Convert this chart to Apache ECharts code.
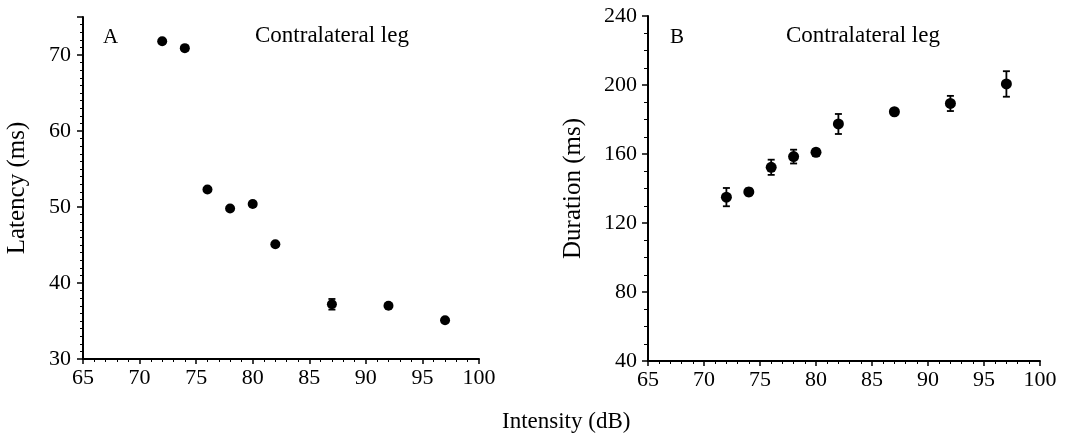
<!DOCTYPE html>
<html>
<head>
<meta charset="utf-8">
<style>
  html, body { margin: 0; padding: 0; background: #fff; }
  #chart { width: 1071px; height: 440px; }
</style>
<script src="https://cdn.jsdelivr.net/npm/echarts@6/dist/echarts.min.js"></script>
</head>
<body>
<div id="chart"></div>
<script>
// intensity levels (dB), shared by both panels
const intensity = [72, 74, 76, 78, 80, 82, 87, 92, 97];

// panel A: latency (ms) and its error
const latency = [71.8, 70.9, 52.3, 49.8, 50.4, 45.1, 37.2, 37.0, 35.1];
const latencyErr = [0.2, 0.3, 0.2, 0.2, 0.3, 0.2, 0.7, 0.2, 0.2];

// panel B: duration (ms) and its error
const duration = [135, 138, 152.3, 158.5, 161, 177.4, 184.5, 189.3, 200.6];
const durationErr = [5.3, 2, 4.4, 4, 2, 5.8, 1.5, 4.4, 7.4];

const font = 'Liberation Serif';
const black = '#000';

function errorData(ys, errs) {
  return intensity.map((x, i) => [x, ys[i] - errs[i], ys[i] + errs[i]]);
}

function renderErrorBar(params, api) {
  const x = api.value(0);
  const top = api.coord([x, api.value(2)]);
  const bot = api.coord([x, api.value(1)]);
  const cap = 3.5;
  const style = { stroke: black, lineWidth: 1.8 };
  return {
    type: 'group',
    children: [
      { type: 'line', shape: { x1: top[0], y1: top[1], x2: bot[0], y2: bot[1] }, style: style },
      { type: 'line', shape: { x1: top[0] - cap, y1: top[1], x2: top[0] + cap, y2: top[1] }, style: style },
      { type: 'line', shape: { x1: bot[0] - cap, y1: bot[1], x2: bot[0] + cap, y2: bot[1] }, style: style }
    ]
  };
}

function xAxisFor(gridIndex) {
  return {
    type: 'value', gridIndex: gridIndex, min: 65, max: 100, interval: 5,
    axisLine: { lineStyle: { color: black, width: 2 } },
    axisTick: { length: 5, lineStyle: { color: black, width: 1.5 } },
    minorTick: { show: true, splitNumber: 5, length: 3, lineStyle: { color: black, width: 1 } },
    axisLabel: { color: black, fontFamily: font, fontSize: 22, margin: 8 },
    splitLine: { show: false }
  };
}

const axisLineY = { show: true, lineStyle: { color: black, width: 2 } };

const option = {
  animation: false,
  backgroundColor: '#fff',
  grid: [
    { left: 83, top: 17, width: 396, height: 342 },
    { left: 648, top: 16, width: 392, height: 345 }
  ],
  xAxis: [xAxisFor(0), xAxisFor(1)],
  yAxis: [
    {
      type: 'value', gridIndex: 0, min: 30, max: 75, interval: 10,
      name: 'Latency (ms)', nameLocation: 'middle', nameGap: 53,
      nameTextStyle: { color: black, fontFamily: font, fontSize: 25 },
      axisLine: axisLineY,
      axisTick: { length: 6, lineStyle: { color: black, width: 1.5 } },
      minorTick: { show: true, splitNumber: 10, length: 3, lineStyle: { color: black, width: 1 } },
      axisLabel: { color: black, fontFamily: font, fontSize: 22, margin: 12, showMaxLabel: false },
      splitLine: { show: false }
    },
    {
      type: 'value', gridIndex: 1, min: 40, max: 240, interval: 40,
      name: 'Duration (ms)', nameLocation: 'middle', nameGap: 62,
      nameTextStyle: { color: black, fontFamily: font, fontSize: 25 },
      axisLine: axisLineY,
      axisTick: { length: 6, lineStyle: { color: black, width: 1.5 } },
      minorTick: { show: true, splitNumber: 4, length: 4, lineStyle: { color: black, width: 1 } },
      axisLabel: { color: black, fontFamily: font, fontSize: 22, margin: 11 },
      splitLine: { show: false }
    }
  ],
  series: [
    {
      type: 'custom', xAxisIndex: 0, yAxisIndex: 0,
      renderItem: renderErrorBar, data: errorData(latency, latencyErr), z: 2
    },
    {
      type: 'scatter', xAxisIndex: 0, yAxisIndex: 0, symbolSize: 10,
      itemStyle: { color: black, opacity: 1 },
      data: intensity.map((x, i) => [x, latency[i]]), z: 3
    },
    {
      type: 'custom', xAxisIndex: 1, yAxisIndex: 1,
      renderItem: renderErrorBar, data: errorData(duration, durationErr), z: 2
    },
    {
      type: 'scatter', xAxisIndex: 1, yAxisIndex: 1, symbolSize: 11,
      itemStyle: { color: black, opacity: 1 },
      data: intensity.map((x, i) => [x, duration[i]]), z: 3
    }
  ],
  graphic: [
    { type: 'text', left: 103, top: 27, style: { text: 'A', font: '21px "Liberation Serif"', fill: black } },
    { type: 'text', left: 255, top: 24, style: { text: 'Contralateral leg', font: '23px "Liberation Serif"', fill: black } },
    { type: 'text', left: 670, top: 27, style: { text: 'B', font: '21px "Liberation Serif"', fill: black } },
    { type: 'text', left: 786, top: 24, style: { text: 'Contralateral leg', font: '23px "Liberation Serif"', fill: black } },
    { type: 'text', left: 502, top: 410, style: { text: 'Intensity (dB)', font: '23px "Liberation Serif"', fill: black } }
  ]
};

const chart = echarts.init(document.getElementById('chart'));
chart.setOption(option);
</script>
</body>
</html>
